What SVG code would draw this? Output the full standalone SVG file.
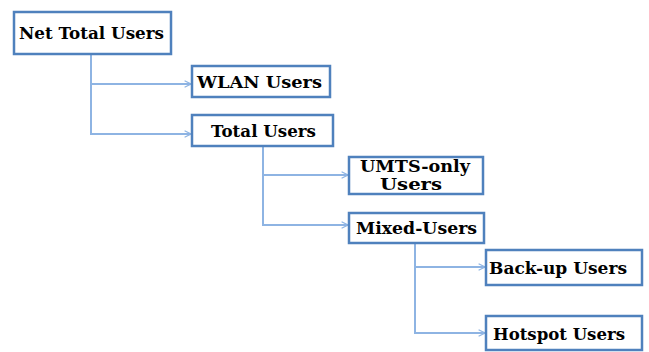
<svg xmlns="http://www.w3.org/2000/svg" width="649" height="352" viewBox="0 0 649 352">
<defs>
<marker id="arr" viewBox="0 0 10 10" refX="9" refY="5" markerWidth="8" markerHeight="8" markerUnits="userSpaceOnUse" orient="auto">
<path d="M1,1 L9,5 L1,9" fill="none" stroke="#8EB4E3" stroke-width="1.5"/>
</marker>
<style>
.box{fill:#fff;stroke:#4F81BD;stroke-width:2.5}
.t{font-family:'DejaVu Serif','Liberation Serif',serif;font-weight:bold;font-size:16px;fill:#000}
.c{fill:none;stroke:#8EB4E3;stroke-width:2}
</style>
</defs>
<rect width="649" height="352" fill="#fff"/>
<g id="connectors">
<path class="c" d="M91,54 V134 H191" marker-end="url(#arr)"/>
<path class="c" d="M91,84 H191" marker-end="url(#arr)"/>
<path class="c" d="M263,146 V225 H348" marker-end="url(#arr)"/>
<path class="c" d="M263,175 H348" marker-end="url(#arr)"/>
<path class="c" d="M415,243 V333 H485" marker-end="url(#arr)"/>
<path class="c" d="M415,267 H485" marker-end="url(#arr)"/>
</g>
<g id="net-total-users">
<rect class="box" x="14" y="12" width="157" height="42"/>
<text class="t" x="19" y="39" textLength="145" lengthAdjust="spacingAndGlyphs">Net Total Users</text>
</g>
<g id="wlan-users">
<rect class="box" x="192" y="66" width="138" height="31"/>
<text class="t" x="197" y="88" textLength="125" lengthAdjust="spacingAndGlyphs">WLAN Users</text>
</g>
<g id="total-users">
<rect class="box" x="192" y="115" width="141" height="31"/>
<text class="t" x="211" y="137" textLength="105" lengthAdjust="spacingAndGlyphs">Total Users</text>
</g>
<g id="umts-only-users">
<rect class="box" x="349" y="157" width="134" height="37"/>
<text class="t" x="360" y="172" textLength="110" lengthAdjust="spacingAndGlyphs">UMTS-only</text>
<text class="t" x="380" y="190" textLength="62" lengthAdjust="spacingAndGlyphs">Users</text>
</g>
<g id="mixed-users">
<rect class="box" x="349" y="213" width="135" height="30"/>
<text class="t" x="356" y="234" textLength="121" lengthAdjust="spacingAndGlyphs">Mixed-Users</text>
</g>
<g id="back-up-users">
<rect class="box" x="486" y="250" width="156" height="35"/>
<text class="t" x="489" y="274" textLength="138" lengthAdjust="spacingAndGlyphs">Back-up Users</text>
</g>
<g id="hotspot-users">
<rect class="box" x="486" y="316" width="156" height="34"/>
<text class="t" x="493" y="340" textLength="132" lengthAdjust="spacingAndGlyphs">Hotspot Users</text>
</g>
</svg>
